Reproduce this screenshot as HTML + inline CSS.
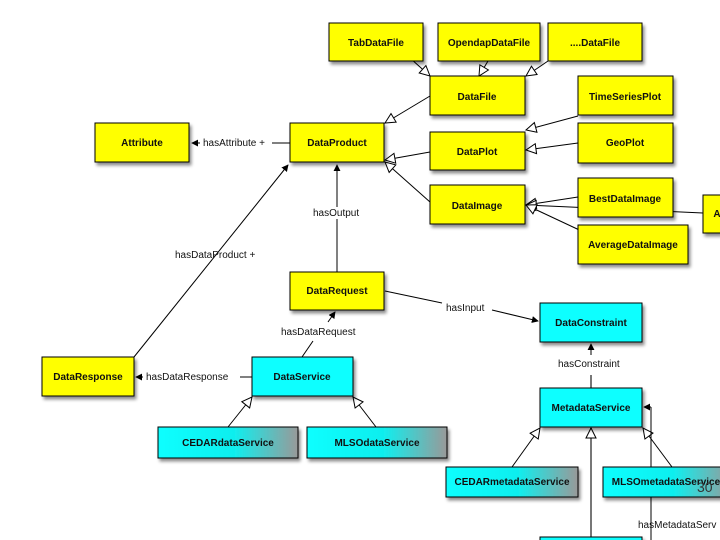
<!DOCTYPE html>
<html><head><meta charset="utf-8"><style>
html,body{margin:0;padding:0;background:#fff;}
svg{display:block;font-family:"Liberation Sans",Arial,sans-serif;}
.b{font-weight:bold;font-size:10px;fill:#111;text-anchor:middle;}
.l{font-size:10px;fill:#111;}
</style></head><body>
<svg width="720" height="540" viewBox="0 0 720 540" xmlns="http://www.w3.org/2000/svg">
<defs>
<filter id="sh" x="-10%" y="-10%" width="130%" height="140%"><feDropShadow dx="2" dy="3" stdDeviation="1.5" flood-color="#000" flood-opacity="0.45"/></filter>
<linearGradient id="cg" x1="0" x2="1" y1="0" y2="0"><stop offset="0" stop-color="#1ff"/><stop offset="0.55" stop-color="#1ee"/><stop offset="1" stop-color="#999"/></linearGradient>
<marker id="tri" viewBox="0 0 12 12" refX="11" refY="6" markerWidth="12" markerHeight="12" markerUnits="userSpaceOnUse" orient="auto"><path d="M1,1 L11,6 L1,11 Z" fill="#fff" stroke="#000" stroke-width="1"/></marker>
<marker id="ar" viewBox="0 0 8 8" refX="7" refY="4" markerWidth="7" markerHeight="7" markerUnits="userSpaceOnUse" orient="auto"><path d="M0,0 L8,4 L0,8 Z" fill="#000"/></marker>
</defs>
<g stroke="#000" stroke-width="1" fill="none">
<!-- generalizations -->
<line x1="410" y1="58" x2="430" y2="76" marker-end="url(#tri)"/>
<line x1="488" y1="61" x2="479" y2="76" marker-end="url(#tri)"/>
<line x1="548" y1="61" x2="526" y2="76" marker-end="url(#tri)"/>
<line x1="430" y1="96" x2="385" y2="123" marker-end="url(#tri)"/>
<line x1="430" y1="152" x2="385" y2="160" marker-end="url(#tri)"/>
<line x1="430" y1="202" x2="385" y2="162" marker-end="url(#tri)"/>
<line x1="578" y1="116" x2="526" y2="130" marker-end="url(#tri)"/>
<line x1="578" y1="143" x2="526" y2="150" marker-end="url(#tri)"/>
<line x1="578" y1="197" x2="526" y2="205" marker-end="url(#tri)"/>
<line x1="703" y1="213" x2="526" y2="205" marker-end="url(#tri)"/>
<line x1="590" y1="235" x2="526" y2="205" marker-end="url(#tri)"/>
<line x1="228" y1="427" x2="252" y2="397" marker-end="url(#tri)"/>
<line x1="376" y1="427" x2="353" y2="397" marker-end="url(#tri)"/>
<line x1="512" y1="467" x2="540" y2="428" marker-end="url(#tri)"/>
<line x1="672" y1="467" x2="643" y2="428" marker-end="url(#tri)"/>
<line x1="591" y1="537" x2="591" y2="428" stroke="#777" stroke-width="2" marker-end="url(#tri)"/>
<!-- associations -->
<line x1="290" y1="143" x2="272" y2="143"/>
<line x1="200" y1="143" x2="192" y2="143" marker-end="url(#ar)"/>
<line x1="337" y1="207" x2="337" y2="165" marker-end="url(#ar)"/>
<line x1="337" y1="272" x2="337" y2="219"/>
<line x1="134" y1="357" x2="288" y2="165" marker-end="url(#ar)"/>
<line x1="302" y1="357" x2="313" y2="341"/>
<line x1="328" y1="322" x2="335" y2="312" marker-end="url(#ar)"/>
<line x1="252" y1="377" x2="240" y2="377"/>
<line x1="143" y1="377" x2="136" y2="377" marker-end="url(#ar)"/>
<line x1="385" y1="291" x2="442" y2="303"/>
<line x1="492" y1="310" x2="538" y2="321" marker-end="url(#ar)"/>
<line x1="591" y1="388" x2="591" y2="375" stroke="#777" stroke-width="2"/>
<line x1="591" y1="355" x2="591" y2="344" marker-end="url(#ar)"/>
<line x1="651" y1="540" x2="651" y2="407"/>
<line x1="651" y1="407" x2="644" y2="407" marker-end="url(#ar)"/>
</g>
<g stroke="#000" stroke-width="1" filter="url(#sh)">
<rect x="329" y="23" width="94" height="38" fill="#ff0"/>
<rect x="438" y="23" width="102" height="38" fill="#ff0"/>
<rect x="548" y="23" width="94" height="38" fill="#ff0"/>
<rect x="430" y="76" width="95" height="39" fill="#ff0"/>
<rect x="430" y="132" width="95" height="38" fill="#ff0"/>
<rect x="430" y="185" width="95" height="39" fill="#ff0"/>
<rect x="578" y="76" width="95" height="39" fill="#ff0"/>
<rect x="578" y="123" width="95" height="40" fill="#ff0"/>
<rect x="578" y="178" width="95" height="39" fill="#ff0"/>
<rect x="578" y="225" width="110" height="39" fill="#ff0"/>
<rect x="703" y="195" width="30" height="38" fill="#ff0"/>
<rect x="95" y="123" width="94" height="39" fill="#ff0"/>
<rect x="290" y="123" width="94" height="39" fill="#ff0"/>
<rect x="290" y="272" width="94" height="38" fill="#ff0"/>
<rect x="42" y="357" width="92" height="39" fill="#ff0"/>
<rect x="252" y="357" width="101" height="39" fill="#1ff"/>
<rect x="158" y="427" width="140" height="31" fill="url(#cg)"/>
<rect x="307" y="427" width="140" height="31" fill="url(#cg)"/>
<rect x="540" y="303" width="102" height="39" fill="#1ff"/>
<rect x="540" y="388" width="102" height="39" fill="#1ff"/>
<rect x="446" y="467" width="132" height="30" fill="url(#cg)"/>
<rect x="603" y="467" width="130" height="30" fill="url(#cg)"/>
<rect x="540" y="537" width="102" height="10" fill="#1ff"/>
</g>
<text class="b" x="376" y="46">TabDataFile</text>
<text class="b" x="489" y="46">OpendapDataFile</text>
<text class="b" x="595" y="46">....DataFile</text>
<text class="b" x="477" y="100">DataFile</text>
<text class="b" x="477" y="155">DataPlot</text>
<text class="b" x="477" y="209">DataImage</text>
<text class="b" x="625" y="100">TimeSeriesPlot</text>
<text class="b" x="625" y="146">GeoPlot</text>
<text class="b" x="625" y="202">BestDataImage</text>
<text class="b" x="633" y="248">AverageDataImage</text>
<text class="b" x="717" y="217">A</text>
<text class="b" x="142" y="146">Attribute</text>
<text class="b" x="337" y="146">DataProduct</text>
<text class="b" x="337" y="294">DataRequest</text>
<text class="b" x="88" y="380">DataResponse</text>
<text class="b" x="302" y="380">DataService</text>
<text class="b" x="228" y="446">CEDARdataService</text>
<text class="b" x="377" y="446">MLSOdataService</text>
<text class="b" x="591" y="326">DataConstraint</text>
<text class="b" x="591" y="411">MetadataService</text>
<text class="b" x="512" y="485">CEDARmetadataService</text>
<text class="b" x="666" y="485">MLSOmetadataService</text>
<text class="l" x="203" y="146">hasAttribute +</text>
<text class="l" x="313" y="216">hasOutput</text>
<text class="l" x="175" y="258">hasDataProduct +</text>
<text class="l" x="281" y="335">hasDataRequest</text>
<text class="l" x="146" y="380">hasDataResponse</text>
<text class="l" x="446" y="311">hasInput</text>
<text class="l" x="558" y="367">hasConstraint</text>
<text class="l" x="638" y="528">hasMetadataServ</text>
<text x="697" y="492" font-size="14" fill="#333">30</text>
</svg>
</body></html>
